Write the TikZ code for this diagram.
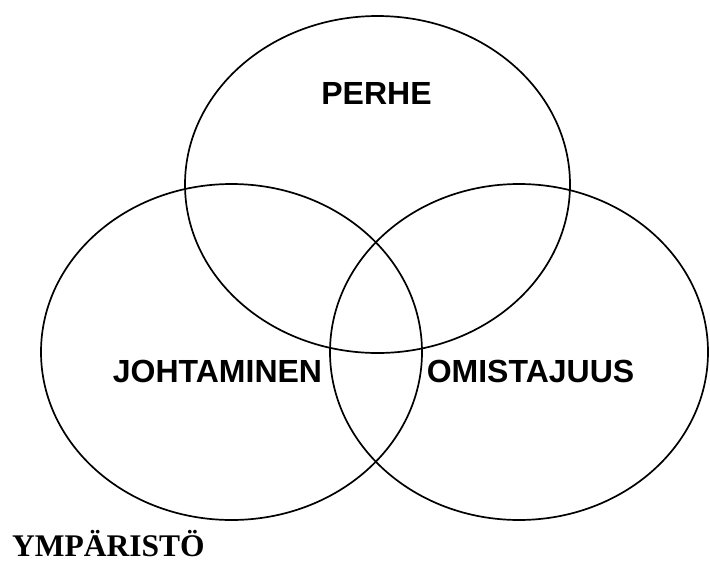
\documentclass[tikz,border=0pt]{standalone}
\usepackage{fontspec}
\setmainfont{Liberation Serif}
\newfontfamily\arialfont{Liberation Sans}
\begin{document}
\begin{tikzpicture}[x=1pt,y=-1pt,
  ring/.style={draw=black,line width=1.7pt},
  lbl/.style={font=\arialfont\bfseries\fontsize{32}{32}\selectfont,inner sep=0pt},
  envlbl/.style={font=\bfseries\fontsize{31.5}{31.5}\selectfont,inner sep=0pt,text depth=0pt,anchor=base west}]
\useasboundingbox (0,0) rectangle (710,563);
\draw[ring] (377.5,184.5) ellipse [x radius=192.5, y radius=168.5];
\draw[ring] (231.5,352) ellipse [x radius=190.5, y radius=168];
\draw[ring] (519,352) ellipse [x radius=189, y radius=168];
\node[lbl] (perhe) at (376.5,93.5) {PERHE};
\node[lbl] (johtaminen) at (217.5,371.5) {JOHTAMINEN};
\node[lbl] (omistajuus) at (530.5,371.5) {OMISTAJUUS};
\node[envlbl] (ymparisto) at (12,556) {YMPÄRISTÖ};
\end{tikzpicture}
\end{document}
